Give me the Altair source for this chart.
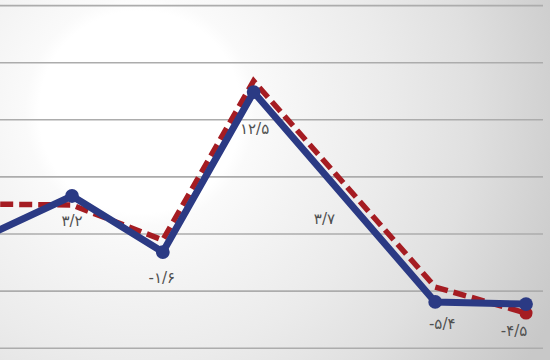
import altair as alt
import pandas as pd

# ---- data ----
blue_idx = [0, 1, 2, 3, 5, 6]
blue_val = [-0.39, 3.33, -1.58, 12.43, -5.95, -6.13]

red_idx = [0, 1, 2, 3, 5, 6]
red_val = [2.63, 2.54, -0.53, 13.40, -4.64, -6.92]

label_idx = [0, 1, 2, 3, 4, 5, 6]
label_anchor = [-0.39, 3.33, -1.58, 12.43, 3.7, -5.95, -6.13]
label_text = ["۰/۳", "۳/۲", "-۱/۶", "۱۲/۵", "۳/۷", "-۵/۴", "-۴/۵"]

grid_vals = [-10, -5, 0, 5, 10, 15, 20]

# ---- tables ----
blue_df = pd.DataFrame({"i": blue_idx, "v": blue_val})
red_df = pd.DataFrame({"i": red_idx, "v": red_val})
lab_df = pd.DataFrame({"i": label_idx, "v": label_anchor, "t": label_text})
grid_df = pd.DataFrame({"v": grid_vals})

W, H = 550, 360
xs = alt.Scale(domain=[0.207, 6.264], nice=False, zero=False)
ys = alt.Scale(domain=[-11.03, 20.49], nice=False, zero=False)
X = alt.X("i:Q", scale=xs, axis=None)
Y = alt.Y("v:Q", scale=ys, axis=None)

BLUE = "#2b3a84"
RED = "#a51c22"

bg_fill = {
    "gradient": "radial",
    "x1": 0.5, "y1": 0.5, "r1": 0,
    "x2": 0.5, "y2": 0.5, "r2": 0.5,
    "stops": [
        {"offset": 0.0, "color": "#ffffff"},
        {"offset": 0.22, "color": "#ffffff"},
        {"offset": 0.25, "color": "#fafafa"},
        {"offset": 0.36, "color": "#f4f4f4"},
        {"offset": 0.54, "color": "#ebebeb"},
        {"offset": 0.72, "color": "#e0e0e0"},
        {"offset": 0.89, "color": "#d1d1d1"},
        {"offset": 1.0, "color": "#c8c8c8"},
    ],
}

bg = alt.Chart(pd.DataFrame({"a": [0]})).mark_rect(fill=bg_fill, clip=True).encode(
    x=alt.value(140 - 460), x2=alt.value(140 + 460),
    y=alt.value(112 - 460), y2=alt.value(112 + 460),
)

grid = alt.Chart(grid_df).mark_rule(color="#acacac", strokeWidth=1.6).encode(
    y=Y, x=alt.value(0), x2=alt.value(543)
)

red_line = alt.Chart(red_df).mark_line(
    color=RED, strokeWidth=5.5, strokeDash=[13, 6], clip=True
).encode(x=X, y=Y)

red_pt = alt.Chart(red_df).transform_filter("datum.i == 6").mark_circle(
    color=RED, opacity=1, size=170, clip=True
).encode(x=X, y=Y)

blue_line = alt.Chart(blue_df).mark_line(
    color=BLUE, strokeWidth=7, clip=True
).encode(x=X, y=Y)

blue_pt = alt.Chart(blue_df).mark_circle(
    color=BLUE, opacity=1, size=190, clip=True
).encode(x=X, y=Y)

offsets = {0: (8, 20), 1: (0, 25), 2: (-1, 26), 3: (1, 37), 4: (-20, 27), 5: (7, 22), 6: (-12, 27)}
labels = []
for k, (dx, dy) in offsets.items():
    labels.append(
        alt.Chart(lab_df).transform_filter(f"datum.i == {k}").mark_text(
            font="DejaVu Sans", fontSize=15, color="#505050", dx=dx, dy=dy,
            align="center", baseline="middle", clip=True
        ).encode(x=X, y=Y, text="t:N")
    )

chart = alt.layer(bg, grid, red_line, red_pt, blue_line, blue_pt, *labels).properties(
    width=W, height=H, padding=0, autosize=alt.AutoSizeParams(type="none")
).configure_view(strokeWidth=0)

chart.save("out.html", embed_options={"renderer": "svg", "actions": False})
